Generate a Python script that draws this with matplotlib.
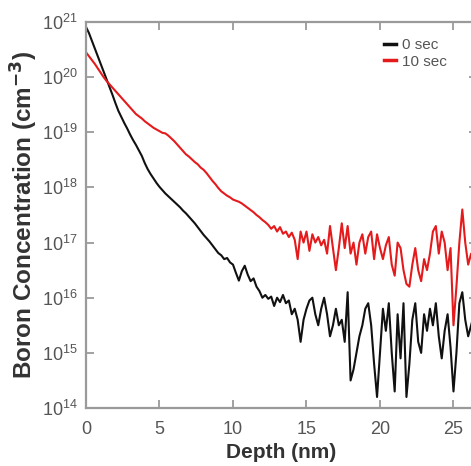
import numpy as np
import matplotlib
matplotlib.use("Agg")
import matplotlib.pyplot as plt

# depth grid (nm)
depth = [
  0.0, 0.2, 0.4, 0.6, 0.8, 1.0, 1.2, 1.4, 1.6, 1.8,
  2.0, 2.2, 2.4, 2.6, 2.8, 3.0, 3.2, 3.4, 3.6, 3.8,
  4.0, 4.2, 4.4, 4.6, 4.8, 5.0, 5.2, 5.4, 5.6, 5.8,
  6.0, 6.2, 6.4, 6.6, 6.8, 7.0, 7.2, 7.4, 7.6, 7.8,
  8.0, 8.2, 8.4, 8.6, 8.8, 9.0, 9.2, 9.4, 9.6, 9.8,
  10.0, 10.2, 10.4, 10.6, 10.8, 11.0, 11.2, 11.4, 11.6, 11.8,
  12.0, 12.2, 12.4, 12.6, 12.8, 13.0, 13.2, 13.4, 13.6, 13.8,
  14.0, 14.2, 14.4, 14.6, 14.8, 15.0, 15.2, 15.4, 15.6, 15.8,
  16.0, 16.2, 16.4, 16.6, 16.8, 17.0, 17.2, 17.4, 17.6, 17.8,
  18.0, 18.2, 18.4, 18.6, 18.8, 19.0, 19.2, 19.4, 19.6, 19.8,
  20.0, 20.2, 20.4, 20.6, 20.8, 21.0, 21.2, 21.4, 21.6, 21.8,
  22.0, 22.2, 22.4, 22.6, 22.8, 23.0, 23.2, 23.4, 23.6, 23.8,
  24.0, 24.2, 24.4, 24.6, 24.8, 25.0, 25.2, 25.4, 25.6, 25.8,
  26.0, 26.2, 26.4,
]

# log10 of boron concentration (cm^-3), 0 sec anneal
log_b0 = [
  20.91, 20.80, 20.66, 20.52, 20.38, 20.24, 20.10, 19.96, 19.82, 19.68,
  19.53, 19.39, 19.28, 19.17, 19.07, 18.96, 18.86, 18.77, 18.67, 18.57,
  18.44, 18.33, 18.24, 18.16, 18.08, 18.01, 17.95, 17.89, 17.84, 17.79,
  17.74, 17.69, 17.64, 17.58, 17.53, 17.47, 17.41, 17.35, 17.28, 17.21,
  17.14, 17.08, 17.02, 16.95, 16.88, 16.81, 16.77, 16.70, 16.72, 16.64,
  16.60, 16.45, 16.31, 16.48, 16.58, 16.42, 16.30, 16.35, 16.20, 16.12,
  16.00, 16.05, 15.98, 16.02, 15.85, 16.00, 15.92, 16.05, 15.90, 15.95,
  15.70, 15.80, 15.60, 15.20, 15.60, 15.80, 15.95, 16.00, 15.70, 15.50,
  15.80, 16.00, 15.70, 15.30, 15.50, 15.80, 15.50, 15.60, 15.20, 16.10,
  14.50, 14.70, 15.00, 15.30, 15.50, 15.80, 15.90, 15.50, 14.80, 14.20,
  15.00, 15.80, 15.40, 15.90, 15.00, 14.30, 15.70, 14.90, 15.90, 14.20,
  14.80, 15.60, 15.90, 15.20, 15.00, 15.70, 15.40, 15.80, 15.50, 15.90,
  15.30, 14.90, 15.40, 15.70, 15.10, 14.30, 15.00, 15.90, 16.10, 15.60,
  15.30, 15.50, 15.70,
]

# log10 of boron concentration (cm^-3), 10 sec anneal
log_b10 = [
  20.45, 20.38, 20.31, 20.24, 20.16, 20.08, 20.00, 19.93, 19.87, 19.81,
  19.75, 19.69, 19.63, 19.57, 19.51, 19.45, 19.39, 19.33, 19.29, 19.25,
  19.20, 19.16, 19.12, 19.08, 19.05, 19.02, 18.99, 18.98, 18.94, 18.89,
  18.84, 18.78, 18.72, 18.66, 18.60, 18.56, 18.51, 18.46, 18.42, 18.36,
  18.32, 18.26, 18.19, 18.12, 18.06, 17.99, 17.93, 17.89, 17.85, 17.82,
  17.78, 17.76, 17.74, 17.71, 17.67, 17.63, 17.59, 17.55, 17.50, 17.46,
  17.41, 17.37, 17.32, 17.25, 17.30, 17.20, 17.28, 17.16, 17.20, 17.10,
  17.18, 17.05, 16.70, 17.20, 17.00, 17.20, 16.85, 17.15, 17.00, 17.10,
  16.95, 17.05, 16.80, 17.30, 16.90, 16.50, 16.90, 17.35, 16.90, 17.30,
  16.80, 17.00, 16.60, 17.00, 17.15, 16.80, 17.10, 17.20, 16.70, 17.15,
  16.90, 16.70, 16.95, 17.10, 16.60, 16.40, 17.00, 16.90, 16.50, 16.25,
  16.20, 16.60, 16.90, 16.50, 16.30, 16.70, 16.50, 16.80, 17.20, 17.30,
  16.80, 17.20, 17.00, 16.50, 16.90, 15.50, 16.20, 17.00, 17.60, 17.00,
  16.60, 16.80, 16.50,
]

series_labels = ["0 sec", "10 sec"]
series_colors = ["#111111", "#e41a1c"]
x_ticks = [0, 5, 10, 15, 20, 25]
y_exps = [14, 15, 16, 17, 18, 19, 20, 21]

plt.rcParams['font.family'] = ['Liberation Sans', 'DejaVu Sans']
plt.rcParams['mathtext.default'] = 'regular'

fig = plt.figure(figsize=(4.71, 4.66), dpi=100)
ax = fig.add_axes([86/471, 58/466, 391/471, 386/466])

conc0 = 10.0 ** np.array(log_b0)
conc10 = 10.0 ** np.array(log_b10)
ax.plot(depth, conc0, color=series_colors[0], lw=1.5, label=series_labels[0])
ax.plot(depth, conc10, color=series_colors[1], lw=1.5, label=series_labels[1])

ax.set_yscale('log')
ax.set_xlim(0, 26.6)
ax.set_ylim(1e14, 1e21)

spine_col = '#9a9a9a'
for s in ax.spines.values():
  s.set_color(spine_col)
  s.set_linewidth(1.6)

ax.set_xticks(x_ticks)
ax.set_xticklabels([str(t) for t in x_ticks])
ax.set_yticks([10.0 ** e for e in y_exps])
ax.set_yticklabels([r'$10^{%d}$' % e for e in y_exps])
ax.yaxis.set_minor_locator(matplotlib.ticker.NullLocator())
ax.tick_params(which='major', direction='in', top=True, right=True,
               length=6, width=1.3, color=spine_col,
               labelcolor='#555555', labelsize=13)
ax.tick_params(axis='x', pad=9)
ax.tick_params(axis='y', pad=6)

ax.set_xlabel('Depth (nm)', fontsize=15, fontweight='bold', color='#333333',
              labelpad=4)
ax.set_ylabel(r'Boron Concentration (cm$^{\mathbf{-3}}$)', fontsize=17.5,
              fontweight='bold', color='#333333', labelpad=2)

leg = ax.legend(loc='upper left', bbox_to_anchor=(0.735, 0.985), frameon=False,
                fontsize=11, handlelength=0.8, handletextpad=0.4,
                labelspacing=0.15, borderpad=0.2)
for t in leg.get_texts():
  t.set_color('#555555')
for h in leg.get_lines():
  h.set_linewidth(2.5)

fig.savefig('out.png', dpi=100)
